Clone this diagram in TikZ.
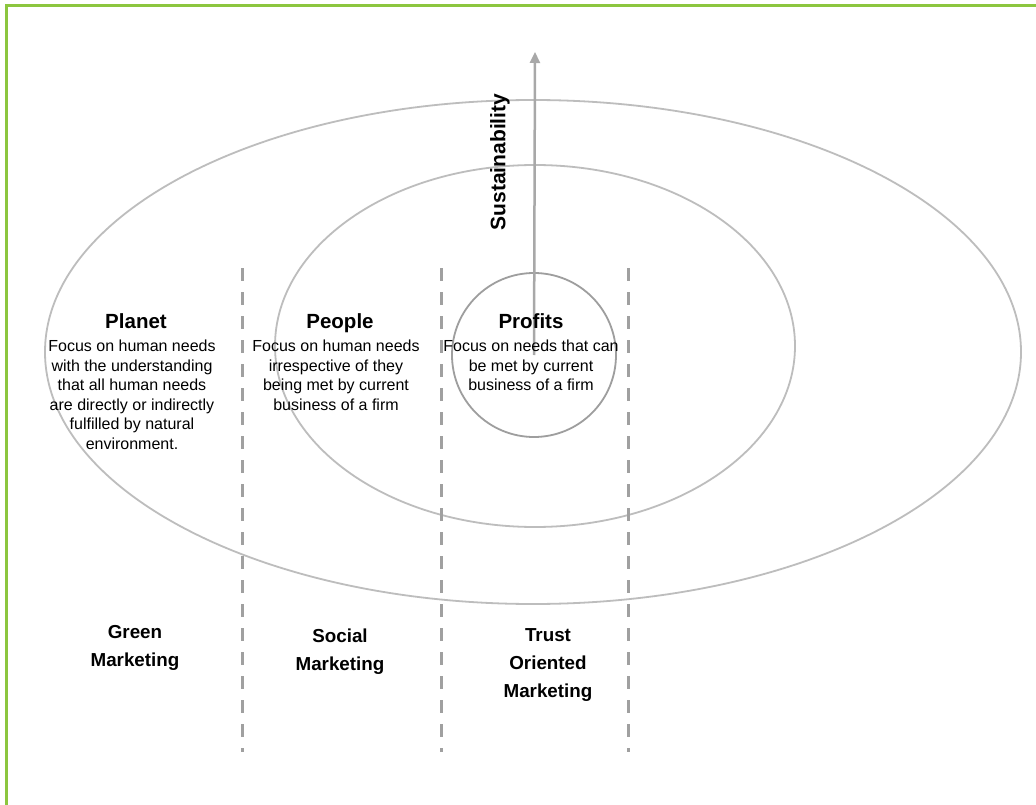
\documentclass[tikz,border=0pt]{standalone}
\usepackage{fontspec}
\setmainfont{Liberation Sans}
\usetikzlibrary{arrows.meta}
\definecolor{framegreen}{HTML}{8CC63F}
\definecolor{ringgray}{HTML}{BDBDBD}
\definecolor{coregray}{HTML}{9E9E9E}
\definecolor{dashgray}{HTML}{A0A0A0}
\definecolor{arrowgray}{HTML}{A8A8A8}
\tikzset{
  ring/.style={draw=ringgray, line width=1.8pt},
  divider/.style={draw=dashgray, line width=3pt, dash pattern=on 13pt off 11pt},
  heading/.style={font=\fontsize{20.5}{24}\selectfont\bfseries, inner sep=0pt, anchor=base},
  bodytext/.style={font=\fontsize{16}{19.5}\selectfont, align=center, inner sep=0pt, anchor=north},
  approach/.style={font=\fontsize{18.8}{28}\selectfont\bfseries, align=center, inner sep=0pt, anchor=north},
}
\begin{document}
\begin{tikzpicture}[x=1pt,y=-1pt]
\useasboundingbox (0,0) rectangle (1036,805);
\fill[white] (0,0) rectangle (1036,805);
% frame
\draw[framegreen, line width=3pt] (6,900) -- (6,6) -- (1200,6);

% concentric rings
\draw[ring] (533,352) ellipse [x radius=488, y radius=252];
\draw[ring] (535,346) ellipse [x radius=260, y radius=181];
\node[circle, draw=coregray, line width=1.8pt, minimum size=164pt, inner sep=0pt] (profitsring) at (534,355) {};

% sustainability axis
\coordinate (axistop) at (535,52);
\draw[arrowgray, line width=2.5pt, -{Triangle[length=11pt,width=10pt]}] (profitsring.center) -- (axistop);
\node[font=\fontsize{21}{24}\selectfont\bfseries, rotate=90, inner sep=0pt] (sust) at (500,162) {Sustainability};

% dividers
\coordinate (d1top) at (242,268); \coordinate (d1bot) at (242,752);
\coordinate (d2top) at (441,268); \coordinate (d2bot) at (441,752);
\coordinate (d3top) at (628,268); \coordinate (d3bot) at (628,752);
\draw[divider] (d1top) -- (d1bot);
\draw[divider] (d2top) -- (d2bot);
\draw[divider] (d3top) -- (d3bot);

% headings and descriptions
\node[heading] (planet) at (136,328) {Planet};
\node[bodytext] (planettext) at (132,340) {Focus on human needs\\with the understanding\\that all human needs\\are directly or indirectly\\fulfilled by natural\\environment.};
\node[heading] (people) at (340,328) {People};
\node[bodytext] (peopletext) at (336,340) {Focus on human needs\\irrespective of they\\being met by current\\business of a firm};
\node[heading] (profits) at (531,328) {Profits};
\node[bodytext] (profitstext) at (531,340) {Focus on needs that can\\be met by current\\business of a firm};

% marketing approaches
\node[approach] (green) at (135,625) {Green\\Marketing};
\node[approach] (social) at (340,629) {Social\\Marketing};
\node[approach] (trust) at (548,628) {Trust\\Oriented\\Marketing};
\end{tikzpicture}
\end{document}
